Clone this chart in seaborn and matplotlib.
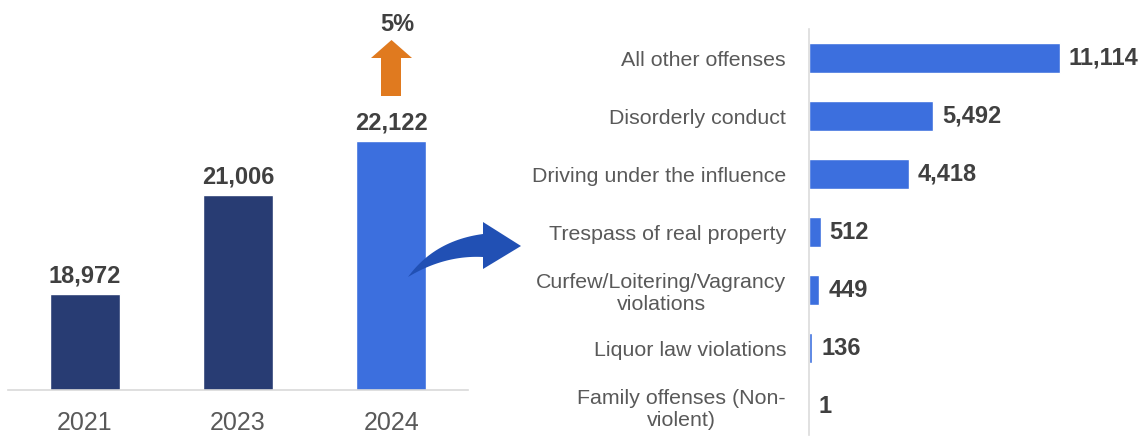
import numpy as np
import pandas as pd
import matplotlib
matplotlib.use("Agg")
import matplotlib.pyplot as plt
from matplotlib.patches import Polygon
import seaborn as sns

# data
years = ["2021", "2023", "2024"]
arrests = [18972, 21006, 22122]
offenses = ["All other offenses", "Disorderly conduct", "Driving under the influence",
            "Trespass of real property", "Curfew/Loitering/Vagrancy\nviolations",
            "Liquor law violations", "Family offenses (Non-\nviolent)"]
offense_counts = [11114, 5492, 4418, 512, 449, 136, 1]
change_label = "5%"

sns.set_theme(style="white")
plt.rcParams['font.family'] = ['Liberation Sans', 'DejaVu Sans']

W, H = 1143, 436
fig = plt.figure(figsize=(W / 100, H / 100), dpi=100, facecolor='w')


def fx(x):
    return x / W


def fy(y):
    return 1 - y / H


navy = "#283C73"
blue = "#3C6FDE"
label_col = "#404040"
tick_col = "#595959"

# left panel: yearly totals
ax1 = fig.add_axes([fx(8), fy(390), (468 - 8) / W, 388.5 / H])
df1 = pd.DataFrame({"year": years, "count": arrests})
sns.barplot(data=df1, x="year", y="count", hue="year", palette=[navy, navy, blue],
            width=0.456, legend=False, ax=ax1, saturation=1)
ax1.set_ylim(17000, 25000)
ax1.set_xlim(-0.5, 2.5)
ax1.set_xlabel("")
ax1.set_ylabel("")
ax1.set_yticks([])
for s in ["top", "right", "left"]:
    ax1.spines[s].set_visible(False)
ax1.spines["bottom"].set_color("#D9D9D9")
ax1.spines["bottom"].set_linewidth(1.2)
ax1.tick_params(axis="x", length=0, pad=15, labelsize=18, labelcolor=tick_col)
for c in ax1.containers:
    ax1.bar_label(c, labels=[f"{v:,.0f}" for v in c.datavalues], padding=5,
                  fontsize=17, fontweight="bold", color=label_col)

# right panel: breakdown by offense
ax2 = fig.add_axes([fx(809), fy(435), 316 / W, 406 / H])
df2 = pd.DataFrame({"offense": offenses, "count": offense_counts})
sns.barplot(data=df2, y="offense", x="count", color=blue, saturation=1,
            width=0.517, orient="h", ax=ax2)
ax2.set_xlim(0, 14000)
ax2.set_xlabel("")
ax2.set_ylabel("")
ax2.set_xticks([])
for s in ["top", "right", "bottom"]:
    ax2.spines[s].set_visible(False)
ax2.spines["left"].set_color("#DCDCDC")
ax2.spines["left"].set_linewidth(1.2)
ax2.tick_params(axis="y", length=0, pad=16.5, labelsize=15.4, labelcolor=tick_col)
for t in ax2.get_yticklabels():
    t.set_multialignment("center")
for c in ax2.containers:
    ax2.bar_label(c, labels=[f"{v:,.0f}" for v in c.datavalues], padding=6.5,
                  fontsize=17, fontweight="bold", color=label_col)

# orange up arrow with change label
orange_pts = [(381, 96), (401, 96), (401, 58), (412, 58), (391.5, 40),
              (371, 58), (381, 58)]
fig.patches.append(Polygon([(fx(x), fy(y)) for x, y in orange_pts], closed=True,
                           facecolor="#E07A1F", edgecolor="none",
                           transform=fig.transFigure, figure=fig))
fig.text(fx(397), fy(31), change_label, ha="center", va="baseline",
         fontsize=17, fontweight="bold", color=label_col)


# curved blue arrow linking the panels
def qbez(p0, c, p2, n=30):
    t = np.linspace(0, 1, n)[:, None]
    p0, c, p2 = map(np.array, (p0, c, p2))
    return (1 - t) ** 2 * p0 + 2 * (1 - t) * t * c + t ** 2 * p2


upper = qbez((408, 277), (434.5, 240.5), (483, 234))
lower = qbez((408, 277), (444.5, 255), (483, 257))
head = np.array([(483, 222), (521, 246), (483, 269)])
pts = np.vstack([upper, head, lower[::-1]])
fig.patches.append(Polygon([(fx(x), fy(y)) for x, y in pts], closed=True,
                           facecolor="#2150B4", edgecolor="none",
                           transform=fig.transFigure, figure=fig))

fig.savefig("out.png", dpi=100, facecolor="w")
